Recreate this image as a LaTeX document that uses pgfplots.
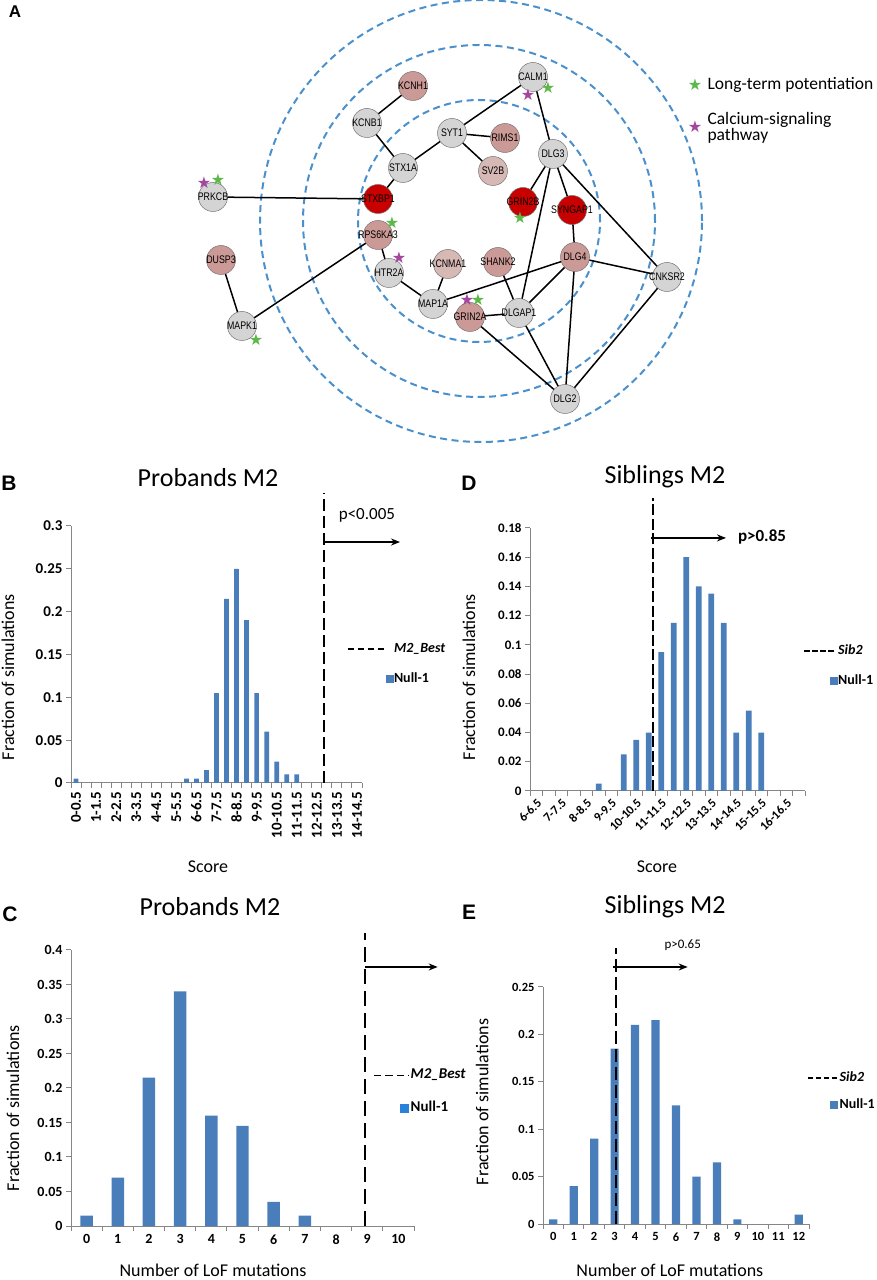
\documentclass[border=0pt]{standalone}
\usepackage{pgfplots}
\pgfplotsset{compat=1.18}
\usetikzlibrary{arrows.meta}
\usepackage{fontspec}
\setmainfont{Carlito}
\newfontfamily\arialf{Liberation Sans}
\newfontfamily\narrowf[FakeStretch=0.8]{Liberation Sans}
\newfontfamily\dejavu{DejaVu Sans}
\newcommand\fs[1]{\fontsize{#1bp}{#1bp}\selectfont}
\definecolor{barblue}{RGB}{74,126,187}
\definecolor{legblue}{RGB}{40,130,220}
\definecolor{axgray}{RGB}{134,134,134}
\definecolor{ringblue}{RGB}{74,144,204}
\definecolor{nodegray}{RGB}{212,212,212}
\definecolor{nodered}{RGB}{200,0,0}
\definecolor{nodepink}{RGB}{204,154,150}
\definecolor{nodepinkl}{RGB}{214,184,181}
\definecolor{ltpgreen}{RGB}{92,184,72}
\definecolor{capurple}{RGB}{162,71,157}
\pgfplotsset{
  hist/.style={
    scale only axis, clip=false, anchor=south west,
    axis x line*=bottom, axis y line*=left,
    axis line style={draw=axgray, line width=1bp},
    tick align=outside,
    major tick length=5bp, minor tick length=5bp,
    every tick/.style={draw=axgray, line width=1bp},
    every major x tick/.append style={draw=none},
    ymin=0, scaled y ticks=false,
    /pgf/number format/assume math mode=true,
    label style={font=\fs{18}},
    title style={font=\fs{26}},
    legend cell align=left,
    legend style={draw=none, fill=none, inner sep=0pt, anchor=north west,
      font=\bfseries\fs{14}, nodes={inner sep=1bp, text height=9bp, text depth=3bp}},
  },
  nodeplot/.style={only marks, mark=*, mark size=14.5bp,
    mark options={fill=#1, draw=black!55, line width=0.5bp},
    nodes near coords, point meta=explicit symbolic,
    every node near coord/.append style={anchor=center, font=\narrowf\fs{11}, inner sep=0pt}},
  starplot/.style={only marks, mark=none, point meta=y,
    nodes near coords={\dejavu\fs{16}\char"2605},
    every node near coord/.append style={anchor=center, text=#1, inner sep=0pt}},
  edge/.style={black, line width=1.5bp},
}
\begin{document}
\begin{tikzpicture}
\useasboundingbox (0,0) rectangle (877bp,1280bp);
% ---------------- Panel A ----------------
\begin{axis}[at={(0bp,830bp)}, anchor=south west, scale only axis, width=877bp, height=450bp,
  xmin=0, xmax=877, ymin=0, ymax=450, y dir=reverse, hide axis, clip=false]
\draw[ringblue, line width=2bp, dash pattern=on 7bp off 4.5bp] (axis cs:479,221) circle[radius=121bp];
\draw[ringblue, line width=2bp, dash pattern=on 7bp off 4.5bp] (axis cs:479,221) circle[radius=176bp];
\draw[ringblue, line width=2bp, dash pattern=on 7bp off 4.5bp] (axis cs:481,221) circle[radius=221bp];
\addplot[edge] coordinates {(413,86) (367,123)};
\addplot[edge] coordinates {(367,123) (403,168)};
\addplot[edge] coordinates {(403,168) (452,133)};
\addplot[edge] coordinates {(403,168) (378,199)};
\addplot[edge] coordinates {(452,133) (505,138)};
\addplot[edge] coordinates {(452,133) (493,171)};
\addplot[edge] coordinates {(452,133) (533,77)};
\addplot[edge] coordinates {(533,77) (553,154)};
\addplot[edge] coordinates {(553,154) (523,202)};
\addplot[edge] coordinates {(553,154) (572,210)};
\addplot[edge] coordinates {(553,154) (667,277)};
\addplot[edge] coordinates {(553,154) (519,313)};
\addplot[edge] coordinates {(572,210) (575,257)};
\addplot[edge] coordinates {(575,257) (667,277)};
\addplot[edge] coordinates {(575,257) (519,313)};
\addplot[edge] coordinates {(575,257) (565,399)};
\addplot[edge] coordinates {(575,257) (433,304)};
\addplot[edge] coordinates {(498,262) (519,313)};
\addplot[edge] coordinates {(470,317) (519,313)};
\addplot[edge] coordinates {(470,317) (565,399)};
\addplot[edge] coordinates {(519,313) (565,399)};
\addplot[edge] coordinates {(667,277) (565,399)};
\addplot[edge] coordinates {(213,197) (378,199)};
\addplot[edge] coordinates {(378,235) (389,273)};
\addplot[edge] coordinates {(378,235) (242,326)};
\addplot[edge] coordinates {(389,273) (433,304)};
\addplot[edge] coordinates {(448,264) (433,304)};
\addplot[edge] coordinates {(221,260) (242,326)};
\addplot[nodeplot=nodegray] table[x=x, y=y, meta=lab] {
x y lab
367 123 KCNB1
452 133 SYT1
403 168 STX1A
533 77 CALM1
553 154 DLG3
213 197 PRKCB
389 273 HTR2A
433 304 MAP1A
519 313 DLGAP1
667 277 CNKSR2
565 399 DLG2
242 326 MAPK1
};
\addplot[nodeplot=nodered] table[x=x, y=y, meta=lab] {
x y lab
378 199 STXBP1
523 202 GRIN2B
572 210 SYNGAP1
};
\addplot[nodeplot=nodepink] table[x=x, y=y, meta=lab] {
x y lab
413 86 KCNH1
505 138 RIMS1
378 235 RPS6KA3
221 260 DUSP3
498 262 SHANK2
575 257 DLG4
470 317 GRIN2A
};
\addplot[nodeplot=nodepinkl] table[x=x, y=y, meta=lab] {
x y lab
493 171 SV2B
448 264 KCNMA1
};
\addplot[starplot=ltpgreen] coordinates {(218,180) (548,88) (520,218) (392,223) (478,300) (256,340) (695,85)};
\addplot[starplot=capurple] coordinates {(204,183) (528,95) (399,258) (467,300) (695,127)};
\node[anchor=west, font=\fs{17.5}] at (axis cs:704,85) {Long-term potentiation};
\node[anchor=west, font=\fs{17.5}, align=left] at (axis cs:704,128) {Calcium-signaling\\[-1bp]pathway};
\end{axis}
\node[font=\arialf\bfseries\fs{17}] at (15bp,1268bp) {A};
% ---------------- Panel B ----------------
\begin{axis}[hist, at={(71bp,497bp)}, width=291bp, height=257bp,
  xmin=-0.5, xmax=28.5, ymax=0.3,
  ytick={0,0.05,0.1,0.15,0.2,0.25,0.3}, yticklabels={0,0.05,0.1,0.15,0.2,0.25,0.3},
  xtick={0,2,...,28},
  xticklabels={0-0.5,1-1.5,2-2.5,3-3.5,4-4.5,5-5.5,6-6.5,7-7.5,8-8.5,9-9.5,10-10.5,11-11.5,12-12.5,13-13.5,14-14.5},
  minor xtick={-0.5,0.5,...,28.5},
  xticklabel style={rotate=90, anchor=east, font=\bfseries\fs{15}},
  yticklabel style={font=\bfseries\fs{15}},
  ylabel={Fraction of simulations}, ylabel style={at={(axis description cs:-0.2165,0.412)}, anchor=center},
  xlabel={Score}, xlabel style={at={(axis description cs:0.471,-0.327)}, anchor=center},
  title={Probands M2}, title style={at={(axis description cs:0.471,1.167)}, anchor=center},
  legend style={at={(axis description cs:0.948,0.549)}, row sep=16bp},
]
\addplot[ybar, bar width=0.47, fill=barblue, draw=none, forget plot] coordinates {
(0,0.005) (11,0.005) (12,0.005) (13,0.015) (14,0.105) (15,0.215) (16,0.25) (17,0.19) (18,0.105) (19,0.06) (20,0.025) (21,0.01) (22,0.01)};
\addplot[black, line width=2bp, dash pattern=on 12bp off 5bp, forget plot] coordinates {(24.67,0) (24.67,0.3385)};
\addplot[black, line width=1.3bp, -{Stealth[length=9bp, width=7bp]}, forget plot] coordinates {(24.71,0.2813) (32.29,0.2813)};
\node[font=\fs{17}] at (axis cs:28.99,0.3128) {p<0.005};
\addlegendimage{legend image code/.code={\draw[black, line width=1.5bp, dash pattern=on 6bp off 4bp] (0bp,0bp) -- (36bp,0bp);}}
\addlegendentry{\textit{M2\_Best}}
\addlegendimage{legend image code/.code={\fill[barblue] (38bp,-3.5bp) rectangle (45bp,3.5bp);}}
\addlegendentry{Null-1}
\end{axis}
\node[font=\arialf\bfseries\fs{21}] at (9bp,797bp) {B};
% ---------------- Panel D ----------------
\begin{axis}[hist, at={(530bp,489bp)}, width=275bp, height=263bp,
  xmin=-0.5, xmax=21.5, ymax=0.18,
  ytick={0,0.02,0.04,0.06,0.08,0.1,0.12,0.14,0.16,0.18},
  yticklabels={0,0.02,0.04,0.06,0.08,0.1,0.12,0.14,0.16,0.18},
  xtick={0,2,...,20},
  xticklabels={6-6.5,7-7.5,8-8.5,9-9.5,10-10.5,11-11.5,12-12.5,13-13.5,14-14.5,15-15.5,16-16.5},
  minor xtick={-0.5,0.5,...,21.5},
  xticklabel style={rotate=45, anchor=north east, font=\bfseries\fs{12.5}, inner sep=1.5bp},
  yticklabel style={font=\bfseries\fs{13}},
  ylabel={Fraction of simulations}, ylabel style={at={(axis description cs:-0.222,0.433)}, anchor=center},
  xlabel={Score}, xlabel style={at={(axis description cs:0.462,-0.289)}, anchor=center},
  title={Siblings M2}, title style={at={(axis description cs:0.491,1.171)}, anchor=center},
  legend style={at={(axis description cs:0.993,0.559)}, row sep=16bp},
]
\addplot[ybar, bar width=0.45, fill=barblue, draw=none, forget plot] coordinates {
(5,0.005) (7,0.025) (8,0.035) (9,0.04) (10,0.095) (11,0.115) (12,0.16) (13,0.14) (14,0.135) (15,0.115) (16,0.04) (17,0.055) (18,0.04)};
\addplot[black, line width=2bp, dash pattern=on 11bp off 3.5bp, forget plot] coordinates {(9.31,0) (9.31,0.2005)};
\addplot[black, line width=1.3bp, -{Stealth[length=9bp, width=7bp]}, forget plot] coordinates {(9.16,0.1732) (15.18,0.1732)};
\node[font=\bfseries\fs{17}] at (axis cs:18.06,0.1739) {p>0.85};
\addlegendimage{legend image code/.code={\draw[black, line width=1.5bp, dash pattern=on 5.5bp off 2.5bp] (0bp,0bp) -- (30bp,0bp);}}
\addlegendentry{\textit{Sib2}}
\addlegendimage{legend image code/.code={\fill[barblue] (26bp,-3.5bp) rectangle (33bp,3.5bp);}}
\addlegendentry{Null-1}
\end{axis}
\node[font=\arialf\bfseries\fs{21}] at (469bp,797bp) {D};
% ---------------- Panel C ----------------
\begin{axis}[hist, at={(71bp,54bp)}, width=343bp, height=276bp,
  xmin=-0.5, xmax=10.5, ymax=0.4,
  ytick={0,0.05,0.1,0.15,0.2,0.25,0.3,0.35,0.4},
  yticklabels={0,0.05,0.1,0.15,0.2,0.25,0.3,0.35,0.4},
  xtick={0,1,...,10},
  xticklabels={0,1,2,3,4,5,6,7,8,9,10},
  minor xtick={-0.5,0.5,...,10.5},
  xticklabel style={font=\bfseries\fs{14}},
  yticklabel style={font=\bfseries\fs{14}},
  ylabel={Fraction of simulations}, ylabel style={at={(axis description cs:-0.169,0.4275)}, anchor=center},
  xlabel={Number of LoF mutations}, xlabel style={at={(axis description cs:0.414,-0.161)}, anchor=center},
  title={Probands M2}, title style={at={(axis description cs:0.405,1.134)}, anchor=center},
  legend style={at={(axis description cs:0.8805,0.572)}, row sep=19bp, font=\bfseries\fs{15}},
]
\addplot[ybar, bar width=0.4, fill=barblue, draw=none, forget plot] coordinates {
(0,0.015) (1,0.07) (2,0.215) (3,0.34) (4,0.16) (5,0.145) (6,0.035) (7,0.015)};
\addplot[black, line width=2bp, dash pattern=on 15bp off 7bp, forget plot] coordinates {(8.92,0) (8.92,0.4246)};
\addplot[black, line width=1.3bp, -{Stealth[length=9bp, width=7bp]}, forget plot] coordinates {(8.94,0.3754) (11.26,0.3754)};
\addlegendimage{legend image code/.code={\draw[black, line width=1.5bp, dash pattern=on 7.5bp off 4bp] (0bp,0bp) -- (35bp,0bp);}}
\addlegendentry{\textit{M2\_Best}}
\addlegendimage{legend image code/.code={\fill[legblue] (26bp,-4bp) rectangle (34bp,4bp);}}
\addlegendentry{Null-1}
\end{axis}
\node[font=\arialf\bfseries\fs{21}] at (10bp,366bp) {C};
% ---------------- Panel E ----------------
\begin{axis}[hist, at={(543bp,56bp)}, width=266bp, height=237bp,
  xmin=-0.5, xmax=12.5, ymax=0.25,
  ytick={0,0.05,0.1,0.15,0.2,0.25},
  yticklabels={0,0.05,0.1,0.15,0.2,0.25},
  xtick={0,1,...,12},
  xticklabels={0,1,2,3,4,5,6,7,8,9,10,11,12},
  minor xtick={-0.5,0.5,...,12.5},
  xticklabel style={font=\bfseries\fs{12.5}},
  yticklabel style={font=\bfseries\fs{12.5}},
  ylabel={Fraction of simulations}, ylabel style={at={(axis description cs:-0.229,0.515)}, anchor=center},
  xlabel={Number of LoF mutations}, xlabel style={at={(axis description cs:0.477,-0.194)}, anchor=center},
  title={Siblings M2}, title style={at={(axis description cs:0.459,1.312)}, anchor=center},
  legend style={at={(axis description cs:0.9925,0.6456)}, row sep=13bp},
]
\addplot[ybar, bar width=0.4, fill=barblue, draw=none, forget plot] coordinates {
(0,0.005) (1,0.04) (2,0.09) (3,0.185) (4,0.21) (5,0.215) (6,0.125) (7,0.05) (8,0.065) (9,0.005) (12,0.01)};
\addplot[black, line width=2bp, dash pattern=on 13bp off 5bp, forget plot] coordinates {(3.05,0) (3.05,0.2911)};
\addplot[black, line width=1.3bp, -{Stealth[length=9bp, width=7bp]}, forget plot] coordinates {(2.9,0.2711) (6.57,0.2711)};
\node[font=\fs{13}] at (axis cs:6.33,0.2943) {p>0.65};
\addlegendimage{legend image code/.code={\draw[black, line width=1.5bp, dash pattern=on 5.5bp off 2.5bp] (0bp,0bp) -- (30bp,0bp);}}
\addlegendentry{\textit{Sib2}}
\addlegendimage{legend image code/.code={\fill[barblue] (22bp,-3.5bp) rectangle (29bp,3.5bp);}}
\addlegendentry{Null-1}
\end{axis}
\node[font=\arialf\bfseries\fs{21}] at (469bp,368bp) {E};
\end{tikzpicture}
\end{document}
